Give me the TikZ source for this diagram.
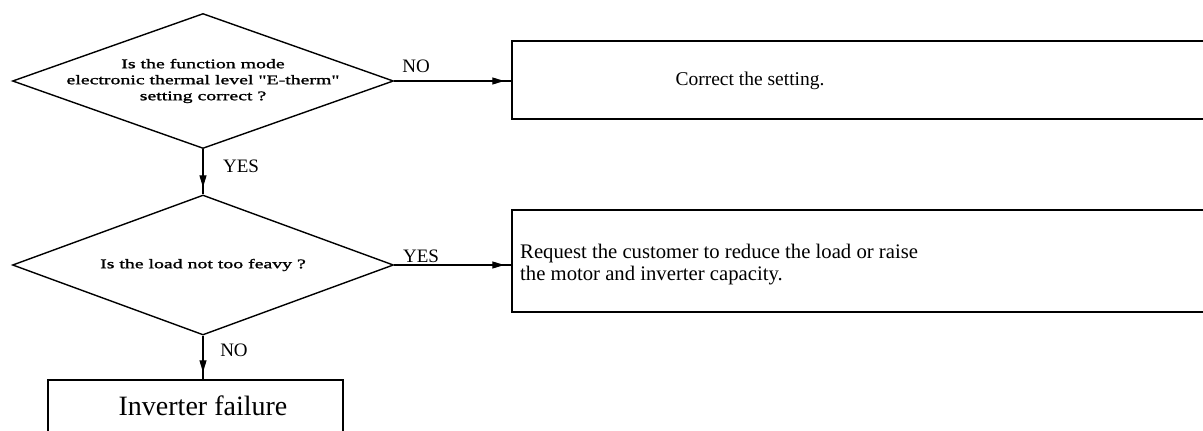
\documentclass[tikz,border=0pt]{standalone}
\usepackage{fontspec}
\setmainfont{Liberation Serif}
\newfontfamily\qfont[FakeStretch=1.5,FakeBold=1.5]{Liberation Serif}
\usetikzlibrary{shapes.geometric,arrows.meta,decorations.markings}

\begin{document}
\begin{tikzpicture}[x=1pt,y=-1pt,
  decision/.style={draw, shape=diamond, aspect=2.82, minimum width=381pt,
    minimum height=135pt, inner sep=0pt, line width=1.4pt},
  question/.style={inner sep=0pt, align=center,
    font=\qfont\fontsize{13.2}{16}\selectfont},
  action/.style={draw, rectangle, inner sep=0pt, line width=1.5pt},
  boxtext/.style={inner sep=0pt, align=left, font=\fontsize{20.7}{22}\selectfont},
  flow/.style={line width=1.3pt, postaction={decorate},
    decoration={markings, mark=at position -7pt with {\arrow{Triangle[length=12pt,width=7pt]}}}},
  lbl/.style={inner sep=0pt, font=\fontsize{19}{21}\selectfont}
]
\useasboundingbox (0,0) rectangle (1203,431);

% decisions
\node[decision] (q1) at (203,81) {};
\node[question] (q1txt) at (q1.center)
  {Is the function mode\\electronic thermal level "E-therm"\\setting correct ?};
\node[decision, minimum height=140pt, aspect=2.72] (q2) at (203,265) {};
\node[question] (q2txt) at (q2.center) {Is the load not too feavy ?};

% actions (the boxes run on past the right and bottom edges)
\node[action, minimum width=718pt, minimum height=78pt] (fix) at (871,80) {};
\node[boxtext, font=\fontsize{19.5}{22}\selectfont] (fixtxt) at (750,81) {Correct the setting.};

\node[action, minimum width=718pt, minimum height=102pt] (req) at (871,261) {};
\node[boxtext, anchor=west] (reqtxt) at (520,265)
  {Request the customer to reduce the load or raise\\the motor and inverter capacity.};

\node[action, minimum width=295pt, minimum height=80pt] (fail) at (195.5,420) {};
\node[boxtext, font=\fontsize{28}{30}\selectfont] (failtxt) at (203,406) {Inverter failure};

% connectors
\draw[flow] (q1.east) -- (q1.east -| fix.west);
\draw[flow] (q1.south) -- (q2.north);
\draw[flow] (q2.east) -- (q2.east -| req.west);
\draw[flow] (q2.south) -- (q2.south |- fail.north);

% branch labels
\node[lbl] (no1) at (416,66) {NO};
\node[lbl] (yes1) at (241,166) {YES};
\node[lbl] (yes2) at (421,256) {YES};
\node[lbl] (no2) at (234,350) {NO};
\end{tikzpicture}
\end{document}
